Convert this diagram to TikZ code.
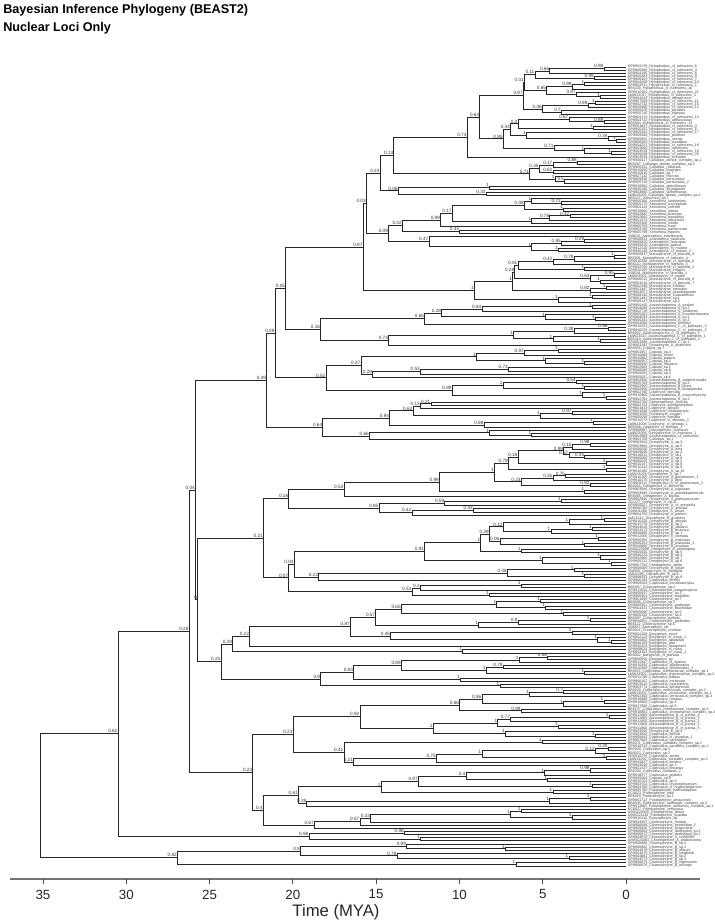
\documentclass[tikz,border=0pt]{standalone}
\usepackage{fontspec}
\setmainfont{Liberation Sans}
\newcount\stk
\newcount\tipn
\def\ytop{67}
\def\dy{3.133}
\def\tipx{626}
\tikzset{
  branch/.style={line width=0.55pt, draw=black!85},
  tiplab/.style={anchor=west, font=\fontsize{2.75}{2.75}\selectfont, text=black!75, inner sep=0pt, xshift=1.2pt},
  supp/.style={anchor=south east, font=\fontsize{3.5}{3.5}\selectfont, text=black!80, inner sep=0.3pt},
  axisline/.style={line width=1.3pt, draw=black!55},
  ticklab/.style={anchor=north, font=\fontsize{10}{12}\selectfont, text=black!85},
}
\newcommand\Tp[1]{%
  \global\advance\tipn by 1\relax
  \global\advance\stk by 1\relax
  \pgfmathsetmacro\ty{\ytop+\dy*(\the\tipn-1)}%
  \expandafter\xdef\csname sy\the\stk\endcsname{\ty}%
  \expandafter\xdef\csname sx\the\stk\endcsname{\tipx}%
  \edef\tipname{tip\the\tipn}%
  \coordinate (\tipname) at (\tipx,\ty);
  \node[tiplab] at (\tipname) {#1};
}
\newcommand\Nd[2]{%
  \pgfmathsetmacro\nx{43+1.06096*(#1-49.3)}%
  \edef\ia{\the\numexpr\stk-1\relax}%
  \edef\ib{\the\stk}%
  \edef\ya{\csname sy\ia\endcsname}%
  \edef\xa{\csname sx\ia\endcsname}%
  \edef\yb{\csname sy\ib\endcsname}%
  \edef\xb{\csname sx\ib\endcsname}%
  \pgfmathsetmacro\nyy{(\ya+\yb)/2}%
  \draw[branch] (\xa,\ya) -- (\nx,\ya) -- (\nx,\yb) -- (\xb,\yb);
  \node[supp] at (\nx,\nyy) {#2};
  \global\advance\stk by -1\relax
  \expandafter\xdef\csname sy\the\stk\endcsname{\nyy}%
  \expandafter\xdef\csname sx\the\stk\endcsname{\nx}%
}
\begin{document}
\catcode`\_=12
\begin{tikzpicture}[x=0.75pt,y=-0.75pt]
\useasboundingbox (0,0) rectangle (714,924);
\node[anchor=north west, font=\bfseries\fontsize{9.5}{13.5}\selectfont, align=left, inner sep=0pt] (title) at (3,4) {Bayesian Inference Phylogeny (BEAST2)\\Nuclear Loci Only};
% ---------- Hylophorbus
\Tp{GP8904178_Hylophorbus_cf_rufescens_6}\Tp{GP8906480_Hylophorbus_cf_rufescens_4}\Nd{578}{0.98}
\Tp{GP8904195_Hylophorbus_cf_rufescens_8}\Nd{527}{0.66}
\Tp{GP8905283_Hylophorbus_cf_rufescens_9}\Tp{GP8906451_Hylophorbus_cf_rufescens_7}\Nd{569}{0.99}\Nd{513}{0.11}
\Tp{GP8904208_Hylophorbus_cf_rufescens_10}\Tp{GP8902911_Hylophorbus_cf_rufescens_2}\Nd{560}{1}\Tp{BB5200_Hylophorbus_cf_rufescens_16}\Nd{548}{0.99}
\Tp{GP8910181_Hylophorbus_cf_rufescens_21}\Tp{LMW23017_Hylophorbus_cf_rufescens_1}\Tp{GP8904243_Hylophorbus_tetraphonus}\Nd{575}{1}\Nd{552}{0.97}\Nd{524}{0.65}\Nd{503}{0.01}
\Tp{GP8907508_Hylophorbus_cf_rufescens_11}\Tp{GP8902742_Hylophorbus_cf_rufescens_15}\Nd{570}{1}\Tp{GP8905990_Hylophorbus_cf_rufescens_12}\Nd{563}{0.99}
\Tp{GP8905976_Hylophorbus_picoides}\Tp{GP8905740_Hylophorbus_nigrinus}\Nd{538}{0.7}\Nd{520}{0.06}\Nd{502}{0.97}
\Tp{GP8904174_Hylophorbus_cf_rufescens_14}\Tp{GP8904732_Hylophorbus_atrifasciatus}\Tp{BB5054_Hylophorbus_cf_rufescens_13}\Nd{578}{0.88}\Nd{545}{0.67}
\Tp{GP8901847_Hylophorbus_cf_rufescens_3}\Tp{GP8905252_Hylophorbus_cf_rufescens_5}\Nd{568}{1}\Nd{497}{0.3}
\Tp{GP8905261_Hylophorbus_cf_rufescens_17}\Tp{GP8905940_Hylophorbus_proekes}\Tp{GP8905952_Hylophorbus_sextus}\Tp{GP8906083_Hylophorbus_wondiwoi}\Nd{590}{1}\Nd{582}{0.34}\Nd{505}{1}\Nd{490}{0.44}
\Tp{GP8904221_Hylophorbus_cf_rufescens_18}\Tp{GP8902660_Hylophorbus_rufescens}\Tp{GP8903519_Hylophorbus_cf_rufescens_19}\Tp{GP8905038_Hylophorbus_cf_rufescens_20}\Nd{585}{1}\Nd{560}{1}\Nd{531}{0.71}\Nd{483}{0.85}\Nd{461}{0.64}
\Tp{GP8903528_Hylophorbus_richardsi}\Nd{449}{0.74}
% ---------- Callulops
\Tp{GP8906417_Callulops_doriae_complex_sp.1}\Tp{BB5287_Callulops_doriae_complex_sp.2}\Nd{553}{0.88}\Tp{GP8905141_Callulops_robustus}\Nd{530}{0.17}
\Tp{GP8910650_Callulops_boettgeri}\Tp{GP8910626_Callulops_sp.7}\Nd{530}{0.62}\Nd{517}{0.35}
\Tp{GP8907122_Callulops_microtis}\Tp{GP8905836_Callulops_personatus}\Tp{GP8905746_Callulops_personatus_2}\Nd{541}{0.5}\Nd{532}{1}\Nd{508}{0.71}\Nd{380}{0.13}
\Tp{GP8910894_Callulops_glandulosus}\Tp{GP8905180_Callulops_stictogaster}\Nd{470}{1}
\Tp{GP8903880_Callulops_wilhelmanus}\Tp{LMW23005_Callulops_doriae_complex_sp.4}\Nd{467}{0.33}\Nd{384}{0.06}\Nd{367}{0.24}
% ---------- Xenorhina / Asterophrys
\Tp{BB5327_Xenorhina_sp.7}\Tp{GP8905166_Xenorhina_lanthanites}\Tp{GP8905175_Xenorhina_oxycephala}\Nd{538}{0.72}\Nd{510}{1}
\Tp{GP8904141_Xenorhina_zweifeli}\Tp{GP8910660_Xenorhina_obesa}\Nd{540}{1}\Nd{503}{0.08}
\Tp{GP8902882_Xenorhina_macrops}\Tp{GP8902860_Xenorhina_bouwensi}\Nd{546}{0.42}\Tp{GP8901474_Xenorhina_arboricola}\Nd{527}{0.78}\Tp{GP8905306_Xenorhina_similis}\Nd{510}{1}\Nd{435}{0.17}
\Tp{GP8905759_Xenorhina_huon}\Nd{424}{0.99}
\Tp{GP8903780_Xenorhina_parkerorum}\Tp{GP8905799_Xenorhina_eiponis}\Nd{442}{0.33}\Nd{388}{0.42}
\Tp{JS8010_Asterophrys_eurydactyla}\Tp{GP8906833_Asterophrys_turpicola}\Tp{GP8905820_Asterophrys_leucopus}\Nd{560}{0.28}\Tp{GP8905815_Asterophrys_pansa}\Nd{538}{0.85}
\Tp{GP8912110_Asterophrys_cf_marani}\Tp{GP8906140_Asterophrys_cf_marani_2}\Nd{535}{1}\Nd{510}{1}\Nd{413}{0.47}\Nd{375}{0.09}\Nd{354}{0.03}
% ---------- Mantophryne
\Tp{GP8905837_Mantophryne_cf_lateralis_5}\Tp{BB5001_Mantophryne_cf_lateralis_4}\Nd{588}{1}\Tp{GP8910268_Mantophryne_cf_lateralis_6}\Nd{550}{0.78}\Tp{BB5110_Mantophryne_cf_lateralis_3}\Nd{530}{0.42}
\Tp{GP8902785_Mantophryne_cf_lateralis_2}\Tp{GP8910105_Mantophryne_insignis}\Nd{560}{1}\Nd{497}{0.01}
\Tp{JS8018_Mantophryne_cf_lateralis_1}\Tp{LMW23001_Asterophrys_cf_slateri}\Nd{588}{0.95}\Tp{GP8906512_Mantophryne_cf_lateralis_8}\Tp{GP8901516_Mantophryne_cf_lateralis_7}\Nd{575}{1}\Nd{565}{0.63}\Nd{494}{0.28}
\Tp{GP8902390_Mantophryne_infulata}\Tp{GP8901487_Mantophryne_menziesi}\Nd{580}{1}\Tp{GP8903557_Mantophryne_axanthogaster}\Nd{565}{0.82}\Nd{492}{1}
\Tp{GP8908140_Mantophryne_louisiadensis}\Tp{GP8901481_Mantophryne_sp.1}\Nd{567}{1}\Tp{GP8908147_Mantophryne_sp.2}\Nd{535}{1}\Nd{456}{1}\Nd{351}{0.97}
% ---------- Austrochaperina A / C
\Tp{GP8905445_Austrochaperina_A_parkeri}\Tp{GP8904088_Austrochaperina_A_sp.2}\Nd{567}{1}\Tp{GP8902710_Austrochaperina_A_yelaensis}\Nd{463}{0.84}
\Tp{GP8905263_Austrochaperina_A_novaebritanniae}\Tp{GP8904093_Austrochaperina_A_sp.1}\Tp{GP8905281_Austrochaperina_A_sp.3}\Nd{570}{1}\Nd{523}{1}\Nd{425}{0.28}
\Tp{GP8902680_Austrochaperina_mehelyi}\Nd{409}{0.65}
\Tp{GP8910232_Austrochaperina_C_cf_palmipes_3}\Tp{GP8910234_Austrochaperina_C_cf_palmipes_2}\Nd{582}{0.98}\Tp{BB5052_Austrochaperina_C_cf_palmipes_5}\Nd{550}{0.38}
\Tp{LMW23013_Austrochaperina_C_cf_palmipes_1}\Tp{BB5410_Austrochaperina_C_cf_palmipes_4}\Tp{GP8901288_Austrochaperina_C_sp.1}\Nd{575}{1}\Nd{530}{1}\Nd{493}{1}
\Tp{GP8903283_Oreophryne_A_anamiatoi}\Nd{375}{0.74}\Nd{311}{0.16}\Nd{278}{0.05}
% ---------- Copiula / Austrochaperina B
\Tp{BB5058_Copiula_sp.7}\Tp{GP8901957_Copiula_sp.4}\Nd{535}{1}\Tp{GP8910885_Copiula_minor}\Nd{503}{0.97}
\Tp{GP8910882_Copiula_pipiens}\Tp{GP8906957_Copiula_sp.3}\Tp{GP8906950_Copiula_fistulans}\Nd{560}{1}\Nd{523}{1}\Nd{458}{1}
\Tp{GP8902983_Copiula_sp.1}\Tp{GP8906080_Copiula_sp.8}\Nd{488}{0.73}\Tp{GP8905091_Copiula_sp.2}\Nd{405}{0.53}\Tp{GP8905097_Copiula_sp.6}\Nd{360}{0.28}\Nd{349}{0.47}
\Tp{GP8902950_Austrochaperina_B_septentrionalis}\Tp{GP8905769_Austrochaperina_B_sp.3}\Nd{552}{0.54}\Tp{GP8902955_Austrochaperina_B_blumi}\Tp{GP8902956_Austrochaperina_B_basipalmata}\Nd{560}{1}\Nd{483}{1}
\Tp{GP8902780_Liophryne_dentata}\Tp{GP8910960_Austrochaperina_B_macrorhyncha}\Tp{GP8902781_Austrochaperina_B_sp.2}\Nd{580}{1}\Nd{558}{1}\Nd{435}{0.89}\Nd{316}{0.52}\Nd{268}{0.09}
% ---------- Liophryne / Genyophryne
\Tp{GP8902750_Sphenophryne_cornuta}\Tp{GP8902753_Liophryne_schlaginhaufeni}\Nd{415}{0.21}\Tp{GP8901833_Liophryne_allisoni}\Nd{405}{0.13}
\Tp{GP8901836_Liophryne_rhododactyla}\Tp{GP8901556_Oxydactyla_coggeri}\Nd{548}{0.97}\Tp{GP8905558_Liophryne_miniafia}\Nd{518}{1}\Nd{398}{0.63}
\Tp{GP8910273_Liophryne_cf_dentata_2}\Tp{LMW23008_Liophryne_cf_dentata_1}\Nd{568}{1}\Tp{BB5008_Liophryne_cf_dentata_3}\Nd{465}{0.98}\Nd{376}{0.94}
\Tp{GP8906887_Genyophryne_thomsoni}\Tp{LMW23009_Genyophryne_cf_thomsoni_1}\Tp{GP8904968_Austrochaperina_cf_rufescens}\Nd{510}{1}\Nd{470}{1}
\Tp{GP8901709_Callulops_sp.1}\Nd{357}{0.66}\Nd{313}{0.64}\Nd{260}{0.49}
% ---------- Oreophryne A
\Tp{GP8903944_Oreophryne_A_sp.3}\Tp{GP8903960_Oreophryne_A_sp.5}\Nd{565}{0.98}\Tp{GP8906058_Oreophryne_A_ezra}\Nd{548}{0.15}
\Tp{GP8909095_Oreophryne_A_sp.4}\Tp{GP8910811_Oreophryne_A_sp.1}\Tp{GP8906066_Oreophryne_A_sp.6}\Nd{560}{0.35}\Nd{545}{0.57}\Nd{540}{0.99}
\Tp{GP8906025_Oreophryne_A_sp.2}\Tp{GP8910137_Oreophryne_A_sp.8}\Nd{580}{1}\Nd{497}{0.18}
\Tp{GP8910143_Oreophryne_A_sp.9}\Tp{GP8910160_Oreophryne_A_sp.10}\Nd{580}{1}\Nd{488}{0.79}
\Tp{LMW23028_Oreophryne_A_sp.7}\Tp{GP8910165_Oreophryne_A_geislerorum_1}\Nd{542}{0.75}\Tp{GP8910175_Oreophryne_A_biroi}\Nd{530}{0.35}
\Tp{GP8905511_Oreophryne_A_cf_geislerorum_2}\Tp{BB5016_Oreophryne_A_brevicrus}\Nd{565}{0.92}\Nd{500}{0.23}\Nd{475}{1}
\Tp{GP8903946_Oreophryne_A_hypsiops}\Tp{GP8903949_Oreophryne_A_pseudasplenicola}\Nd{560}{1}\Nd{423}{0.99}
\Tp{BB5065_Oreophryne_A_kapisa}\Nd{333}{0.53}
\Tp{GP8902946_Oreophryne_A_parkopanorum}\Tp{JS2127_Oreophryne_A_sp.11}\Nd{538}{1}\Tp{GP8905027_Oreophryne_A_cf_oreophila}\Nd{428}{0.59}
\Tp{GP8906785_Oreophryne_A_anulata}\Tp{CMNH1286_Oreophryne_A_anser}\Nd{455}{0.43}\Tp{GP8904794_Oreophryne_A_parkeri}\Nd{397}{0.42}\Nd{366}{0.85}\Nd{281}{0.16}
% ---------- Oreophryne B
\Tp{AM13134_Oreophryne_B_graminis}\Tp{GP8910126_Oreophryne_B_alticola}\Nd{578}{1}\Tp{GP8915770_Oreophryne_B_sp.2}\Nd{545}{1}
\Tp{GP8904010_Oreophryne_B_sibilans}\Tp{GP8903472_Oreophryne_B_brunnea}\Nd{567}{1}\Tp{GP8905885_Oreophryne_B_sp.1}\Nd{528}{1}\Nd{483}{0.12}
\Tp{GP8911565_Oreophryne_B_clamata}\Tp{GP8906350_Oreophryne_B_matsutau}\Nd{573}{1}\Tp{GP8906351_Oreophryne_B_matsutau_2}\Tp{GP8910880_Oreophryne_B_insulana}\Nd{560}{1}\Nd{480}{0.06}\Nd{470}{0.39}
\Tp{UMMZ23098_Oreophryne_B_penelopeia}\Tp{GP8905920_Oreophryne_B_sp.5}\Nd{500}{1}\Nd{462}{1}
\Tp{GP8906233_Oreophryne_B_sp.3}\Tp{GP8902960_Oreophryne_B_sp.7}\Nd{575}{1}\Tp{GP8905211_Oreophryne_B_sp.9}\Tp{GP8907703_Paedophryne_oblita}\Nd{585}{1}\Nd{520}{1}\Nd{409}{0.91}
\Tp{GP8905669_Oreophryne_B_loriae}\Tp{JS6930_Oreophryne_B_variabilis}\Nd{550}{1}\Tp{JA811360_Oreophryne_B_sp.6}\Tp{GP8906933_Oreophryne_B_sp.8}\Nd{560}{1}\Nd{487}{0.08}
\Tp{GP8906184_Cophixalus_shellyi}\Nd{309}{0.23}\Nd{286}{0.03}
\Tp{GP8909164_Cophixalus_tomaiodactylus}\Tp{BB5457_Choerophryne_sp.2}\Nd{500}{1}\Tp{GP8911544_Choerophryne_sanguinopicta}\Nd{405}{0.2}
\Tp{GP8905937_Choerophryne_sp.3}\Tp{GP8905901_Choerophryne_rostellifer}\Nd{470}{1}\Nd{397}{0.53}\Nd{281}{0.07}\Nd{257}{0.21}
% ---------- Choerophryne / Barygenys
\Tp{GP8901809_Choerophryne_sp.7}\Tp{BB5095_Choerophryne_sp.1}\Nd{518}{1}\Tp{GP8905301_Choerophryne_gudrunae}\Tp{GP8901931_Choerophryne_brunhildae}\Nd{523}{1}\Nd{477}{1}
\Tp{GP8905090_Choerophryne_sp.5}\Tp{GP8905294_Choerophryne_sp.4}\Nd{540}{1}\Nd{387}{0.65}
\Tp{BB5097_Choerophryne_gunnari}\Tp{GP8910601_Choerophryne_grylloides}\Nd{565}{1}\Tp{BB5112_Choerophryne_sp.6}\Nd{497}{0.8}\Tp{JS8097_Asterophrys_sp.}\Nd{460}{1}\Nd{363}{0.57}
\Tp{BB5021_Choerophryne_ocellata}\Tp{GP8902108_Barygenys_exsul}\Nd{548}{1}\Tp{GP8902113_Barygenys_cf_exsul_1}\Tp{GP8905802_Barygenys_apodasta}\Tp{GP8906159_Barygenys_atra}\Nd{585}{1}\Nd{572}{1}\Nd{377}{0.45}\Nd{339}{0.87}
\Tp{GP8910204_Barygenys_flavigularis}\Nd{244}{0.22}
\Tp{GP8908614_Barygenys_cf_nana}\Tp{GP8903353_Barygenys_cf_exsul_2}\Nd{445}{1}\Nd{228}{0.29}
\Tp{BB5022_Barygenys_cf_parvula}\Tp{GP8906050_Barygenys_sp.}\Nd{525}{0.98}\Tp{GP8911947_Cophixalus_cf_riparius}\Nd{498}{1}
\Tp{GP8910455_Cophixalus_albolineatus}\Tp{GP8910456_Cophixalus_albolineatus_2}\Nd{483}{0.79}\Tp{BB5115_Cophixalus_cheesmanae_complex_sp.1}\Tp{LMW24002_Cophixalus_cheesmanae_complex_sp.2}\Nd{560}{1}\Nd{467}{1}\Nd{387}{0.89}
\Tp{GP8911708_Cophixalus_balbus}\Tp{GP8906167_Cophixalus_melanops}\Nd{443}{1}\Nd{342}{0.83}
\Tp{GP8903510_Cophixalus_cupricarens}\Tp{GP8903774_Cophixalus_sphagnicola}\Nd{480}{1}\Nd{311}{0.9}\Nd{217}{0.25}\Nd{195}{0}\Nd{193}{0.04}
% ---------- Cophixalus / Aphantophryne
\Tp{BB5030_Cophixalus_verrucosus_complex_sp.2}\Tp{LMW24001_Cophixalus_verrucosus_complex_sp.1}\Nd{540}{0.7}\Tp{GP8902360_Cophixalus_verrucosus_complex_sp.3}\Nd{508}{1}
\Tp{GP8916880_Cophixalus_nexipus}\Tp{GP8916860_Cophixalus_sp.4}\Nd{578}{1}\Tp{GP8917806_Cophixalus_sp.8}\Nd{540}{1}\Nd{463}{0.86}
\Tp{BB5137_Cophixalus_cheesmanae_complex_sp.3}\Tp{GP8916881_Cophixalus_cheesmanae_complex_sp.4}\Nd{500}{0.99}\Nd{442}{0.66}
\Tp{GP8911885_Aphantophryne_B_cf_pansa_4}\Tp{GP8911883_Aphantophryne_B_cf_pansa_3}\Nd{583}{1}\Tp{GP8911850_Aphantophryne_B_cf_pansa_1}\Nd{490}{0.77}
\Tp{GP8911868_Aphantophryne_B_cf_pansa_2}\Tp{GP8911860_Aphantophryne_B_cf_pansa_5}\Nd{535}{1}\Nd{478}{1}
\Tp{GP8903945_Oreophryne_B_sp.4}\Tp{GP8903582_Cophixalus_kethuk}\Tp{GP8905843_Cophixalus_cf_sisyphus_1}\Nd{570}{1}\Nd{485}{1}\Nd{417}{1}\Nd{348}{0.92}
\Tp{GP8907803_Cophixalus_carringtoni}\Tp{BB5071_Cophixalus_variabilis_complex_sp.1}\Nd{520}{1}
\Tp{GP8910210_Cophixalus_variabilis_complex_sp.2}\Tp{BB5020_Cophixalus_sp.1}\Nd{582}{0.20}\Tp{BB5023_Cophixalus_sp.2}\Nd{570}{0.12}
\Tp{GP8910275_Cophixalus_ateles}\Tp{LMW24030_Cophixalus_variabilis_complex_sp.3}\Nd{580}{1}\Nd{463}{1}
\Tp{GP8915837_Cophixalus_timidus}\Nd{420}{0.75}\Tp{GP8903549_Cophixalus_sp.3}\Nd{342}{0.21}\Nd{333}{0.41}\Nd{285}{0.23}
% ---------- Cophixalus / Paedophryne
\Tp{GP8901337_Cophixalus_linnaeus}\Tp{BB5200_Cophixalus_linnaeus_2}\Nd{565}{0.98}\Tp{GP8916577_Cophixalus_pipilans}\Nd{522}{1}
\Tp{GP8905094_Copiula_sp.9}\Tp{GP8910701_Cophixalus_sp.5}\Nd{525}{1}\Nd{448}{0.4}
\Tp{GP8903701_Cophixalus_cryptotympanum}\Tp{GP8903760_Cophixalus_cf_cryptotympanum}\Nd{567}{1}\Nd{403}{0.97}
\Tp{GP8905760_Paedophryne_kathismaphlox}\Tp{KC8023_Paedophryne_titan}\Nd{530}{1}\Nd{368}{1}
\Tp{BB5019_Paedophryne_sp.1}\Tp{GP8901712_Paedophryne_amauensis}\Nd{565}{1}\Tp{BB5045_Paedophryne_swiftorum_complex_sp.2}\Nd{527}{1}
\Tp{GP8911665_Paedophryne_swiftorum_complex_sp.1}\Nd{298}{0.28}\Nd{290}{0.61}
\Tp{KC8027_Paedophryne_verrucosa}\Tp{UMMZ24405_Paedophryne_dekot}\Nd{500}{1}\Tp{UMMZ21118_Paedophryne_oyatabu}\Tp{GP8910110_Genyophryne_sp.}\Nd{548}{1}\Nd{490}{1}
\Tp{GP8903457_Choerophryne_murrita}\Nd{358}{0.33}\Tp{GP8906848_Choerophryne_brunhildae_2}\Nd{348}{0.67}
\Tp{GP8905836_Choerophryne_longirostris}\Nd{305}{0.67}\Nd{257}{0.4}\Nd{247}{0.23}\Nd{187}{0.28}
% ---------- long branches
\Tp{GP8906864_Choerophryne_darlingtoni_sp.2}\Tp{GP8906873_Choerophryne_darlingtoni_sp.1}\Nd{390}{0.98}
\Tp{GP8904875_Choerophryne_A_rostellifer}\Tp{UMMZ24081_Choerophryne_A_proboscidea}\Nd{405}{1}\Nd{300}{0.98}\Nd{120}{0.62}
% ---------- basal clade
\Tp{GP8906868_Choerophryne_B_sp.4}\Tp{GP8906862_Choerophryne_B_sp.1}\Tp{GP8904876_Choerophryne_B_allisoni}\Nd{485}{1}\Nd{392}{0.99}
\Tp{GP8904870_Choerophryne_B_siegfriedi}\Tp{GP8904881_Choerophryne_B_sp.2}\Tp{GP8903573_Choerophryne_B_sp.3}\Nd{545}{1}\Nd{383}{0.78}\Nd{292}{0.9}
\Tp{GP8906875_Choerophryne_B_nigrescens}\Tp{GP8906876_Choerophryne_B_microps}\Nd{495}{1}\Nd{176}{0.82}\Nd{46.5}{}
% ---------- time axis
\coordinate (axL) at (10,879);
\coordinate (axR) at (700,879);
\draw[axisline] (axL) -- (axR);
\foreach \k/\lab in {0/0,1/5,2/10,3/15,4/20,5/25,6/30,7/35}{
  \pgfmathsetmacro\tx{626-83.286*\k}
  \draw[black!70, line width=0.6pt] (\tx,879) -- (\tx,884);
  \node[ticklab] (tick\k) at (\tx,885) {\lab};
}
\node[font=\fontsize{12.5}{14}\selectfont, text=black!85, anchor=north] (xlabel) at (336,900) {Time (MYA)};
\end{tikzpicture}
\end{document}
